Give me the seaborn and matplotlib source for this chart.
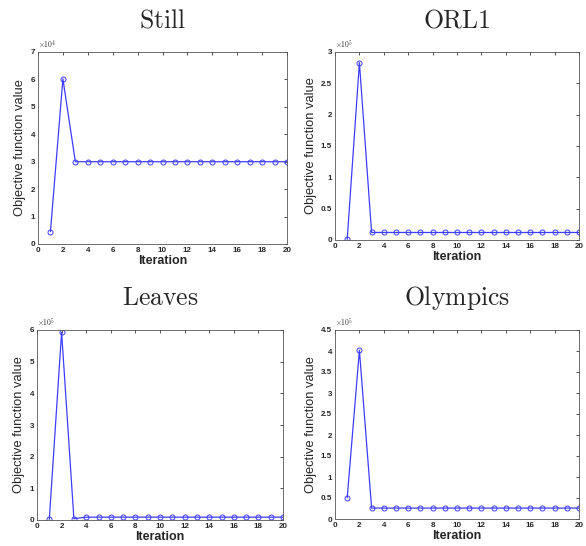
import numpy as np
import pandas as pd
import matplotlib
matplotlib.use("Agg")
import matplotlib.pyplot as plt
import seaborn as sns

iterations = [1, 2, 3, 4, 5, 6, 7, 8, 9, 10, 11, 12, 13, 14, 15, 16, 17, 18, 19, 20]

still = [0.45, 6.02, 3.0, 3.0, 3.0, 3.0, 3.0, 3.0, 3.0, 3.0,
         3.0, 3.0, 3.0, 3.0, 3.0, 3.0, 3.0, 3.0, 3.0, 3.0]  # x1e4
orl1 = [0.01, 2.83, 0.12, 0.12, 0.12, 0.12, 0.12, 0.12, 0.12, 0.12,
        0.12, 0.12, 0.12, 0.12, 0.12, 0.12, 0.12, 0.12, 0.12, 0.12]  # x1e5
leaves = [0.02, 5.93, 0.04, 0.09, 0.09, 0.09, 0.09, 0.09, 0.09, 0.09,
          0.09, 0.09, 0.09, 0.09, 0.09, 0.09, 0.09, 0.09, 0.09, 0.09]  # x1e5
olympics = [0.50, 4.02, 0.26, 0.26, 0.26, 0.26, 0.26, 0.26, 0.26, 0.26,
            0.26, 0.26, 0.26, 0.26, 0.26, 0.26, 0.26, 0.26, 0.26, 0.26]  # x1e5

titles = ["Still", "ORL1", "Leaves", "Olympics"]
series = [still, orl1, leaves, olympics]
exps = [4, 5, 5, 5]
ymax = [7, 3, 6, 4.5]
ystep = [1, 0.5, 1, 0.5]

# axes boxes in pixels (left, top, right, bottom)
boxes = [(38, 52, 287, 244), (335, 52, 579, 240),
         (37, 330, 283, 520), (335, 330, 579, 519)]

sns.set_style("white")
plt.rcParams['mathtext.fontset'] = 'cm'
plt.rcParams['font.family'] = ['Liberation Sans', 'DejaVu Sans']

W, H = 586, 546
fig = plt.figure(figsize=(W / 100, H / 100), dpi=100)

for i in range(4):
    l, t, r, b = boxes[i]
    ax = fig.add_axes([l / W, 1 - b / H, (r - l) / W, (b - t) / H])
    df = pd.DataFrame({"Iteration": iterations,
                       "Value": np.array(series[i]) * 10 ** exps[i]})
    sns.lineplot(x="Iteration", y="Value", data=df, ax=ax, color="#3d3dff",
                 linewidth=0.9, marker="o", markersize=3.6,
                 markerfacecolor="none", markeredgecolor="#3d3dff",
                 markeredgewidth=0.7)
    ax.set_xlim(0, 20)
    ax.set_ylim(0, ymax[i] * 10 ** exps[i])
    ax.set_xticks(np.arange(0, 21, 2))
    yt = np.arange(0, ymax[i] + 1e-9, ystep[i])
    ax.set_yticks(yt * 10 ** exps[i])
    ax.set_yticklabels(["%g" % v for v in yt])
    ax.tick_params(direction="in", length=2.5, width=0.6, top=True, right=True,
                   labelsize=5.8, pad=2, color="#333333")
    for lab in ax.get_xticklabels() + ax.get_yticklabels():
        lab.set_fontweight("bold")
    for sp in ax.spines.values():
        sp.set_linewidth(0.6)
        sp.set_color("#555555")
    ax.set_xlabel("Iteration", fontsize=9, fontweight="bold", labelpad=1)
    ax.set_ylabel("Objective function value", fontsize=9.3, labelpad=3)
    ax.text(0.0, 1.005, r"$\times10^{%d}$" % exps[i], transform=ax.transAxes,
            fontsize=5.5, ha="left", va="bottom", color="#333333")
    cx = (l + r) / 2 / W
    ty = 1 - (t - 32) / H
    fig.text(cx, ty, r"$\mathrm{%s}$" % titles[i], fontsize=18.5,
             ha="center", va="center")

plt.savefig("out.png", dpi=100)
